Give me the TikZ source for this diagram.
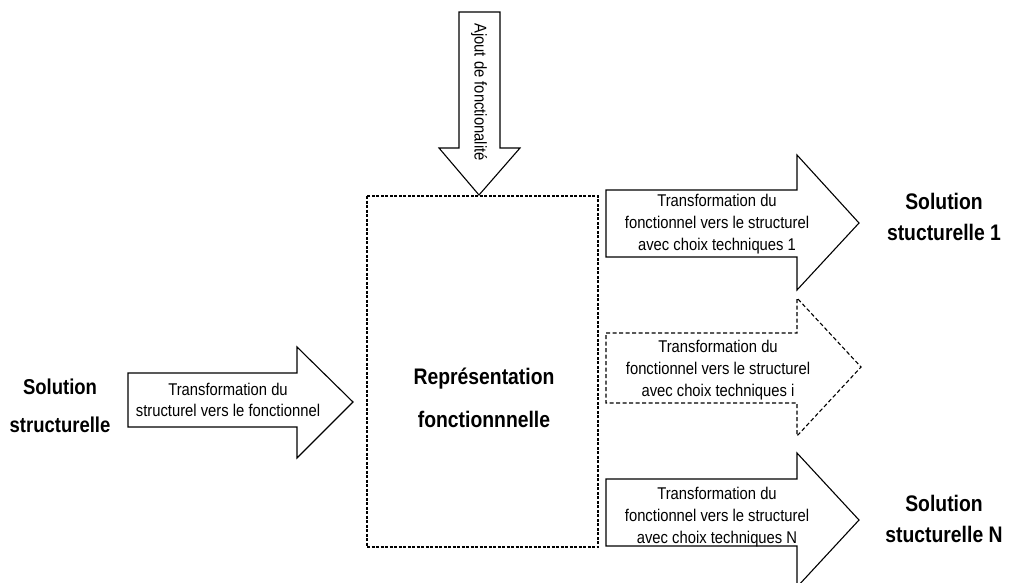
\documentclass[tikz,border=0pt]{standalone}
\usepackage{fontspec}
\setmainfont{Liberation Sans}
\newfontfamily\narrowsans[FakeStretch=0.87]{Liberation Sans}
\newfontfamily\narrowbold[FakeStretch=0.86]{Liberation Sans}
\begin{document}
\begin{tikzpicture}[x=1pt,y=-1pt,
  blockarrow/.style={draw=black,line width=1.1pt,line join=miter,fill=white},
  dashedarrow/.style={draw=black,line width=1.1pt,line join=miter,dash pattern=on 4pt off 2.5pt},
  dashbox/.style={draw=black,line width=1.1pt,dash pattern=on 3pt off 1.5pt},
  arrowtext/.style={align=center,inner sep=0pt,font=\narrowsans\fontsize{17}{21.7}\selectfont},
  biglabel/.style={align=center,inner sep=0pt,font=\narrowbold\bfseries\fontsize{22.5}{31}\selectfont}]
\useasboundingbox (0,0) rectangle (1015,582);
% functional representation box
\draw[dashbox] (367,196) rectangle (598,547);
\node[biglabel,font=\narrowbold\bfseries\fontsize{22.5}{43}\selectfont] (rep) at (484,398) {Représentation\\fonctionnnelle};
% top arrow
\draw[blockarrow] (459,12) -- (500,12) -- (500,148) -- (520,148) -- (479,195) -- (439,148) -- (459,148) -- cycle;
\node[arrowtext,rotate=-90] (ajout) at (479,92) {Ajout de fonctionalité};
% left arrow
\draw[blockarrow] (128,373) -- (297,373) -- (297,347) -- (353,402) -- (297,458) -- (297,427) -- (128,427) -- cycle;
\node[arrowtext] (tl) at (228,400) {Transformation du\\structurel vers le fonctionnel};
\node[biglabel,font=\narrowbold\bfseries\fontsize{21.5}{38}\selectfont] (sl) at (60,406) {Solution\\structurelle};
% arrow 1
\draw[blockarrow] (606,190) -- (797,190) -- (797,155) -- (859,223) -- (797,290) -- (797,257) -- (606,257) -- cycle;
\node[arrowtext] (t1) at (717,224) {Transformation du\\fonctionnel vers le structurel\\avec choix techniques 1};
\node[biglabel] (s1) at (944,217) {Solution\\stucturelle 1};
% arrow i
\draw[dashedarrow] (606,333) -- (797,333) -- (797,298) -- (861,367) -- (797,436) -- (797,403) -- (606,403) -- cycle;
\node[arrowtext] (ti) at (718,370) {Transformation du\\fonctionnel vers le structurel\\avec choix techniques i};
% arrow N
\draw[blockarrow] (606,479) -- (797,479) -- (797,453) -- (859,520) -- (797,587) -- (797,546) -- (606,546) -- cycle;
\node[arrowtext] (tn) at (717,517) {Transformation du\\fonctionnel vers le structurel\\avec choix techniques N};
\node[biglabel] (sn) at (944,519) {Solution\\stucturelle N};
\end{tikzpicture}
\end{document}
